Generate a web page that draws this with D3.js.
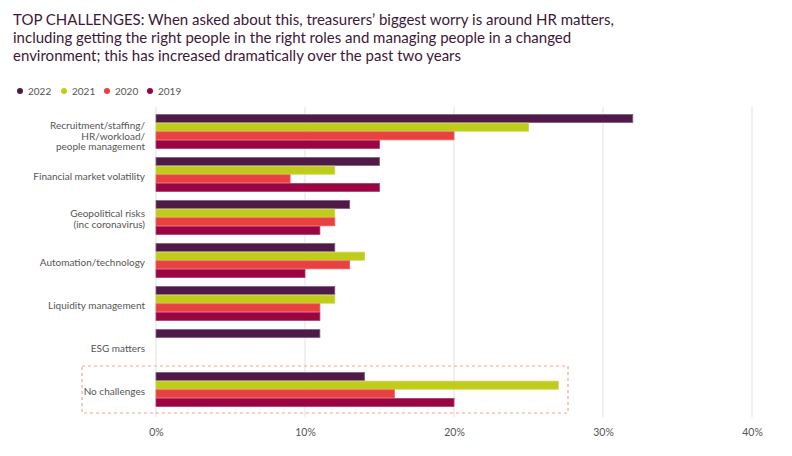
<!DOCTYPE html>
<html><head><meta charset="utf-8">
<script src="https://cdn.jsdelivr.net/npm/d3@7"></script>
<style>
body{margin:0;background:#fff;}
svg{display:block;font-family:"Lato","Noto Sans",sans-serif;}
</style></head>
<body><svg id="c" width="792" height="456"></svg>
<script>
const titleLines = [
  "TOP CHALLENGES: When asked about this, treasurers’ biggest worry is around HR matters,",
  "including getting the right people in the right roles and managing people in a changed",
  "environment; this has increased dramatically over the past two years"
];
const categories = [
  ["Recruitment/staffing/","HR/workload/","people management"],
  ["Financial market volatility"],
  ["Geopolitical risks","(inc coronavirus)"],
  ["Automation/technology"],
  ["Liquidity management"],
  ["ESG matters"],
  ["No challenges"]
];
const years = ["2022","2021","2020","2019"];
const v2022 = [32, 15, 13, 12, 12, 11, 14];
const v2021 = [25, 12, 12, 14, 12, null, 27];
const v2020 = [20, 9, 12, 13, 11, null, 16];
const v2019 = [15, 15, 11, 10, 11, null, 20];
const xTicks = [0, 10, 20, 30, 40];
const colors = {"2022":"#4e1a47","2021":"#bfcc1a","2020":"#e84142","2019":"#9b0443"};
const strokes = {"2022":"#8a5b84","2021":"#cbd64a","2020":"#f0605a","2019":"#b23a6a"};

const series = {"2022":v2022,"2021":v2021,"2020":v2020,"2019":v2019};
const svg = d3.select("#c");

// title
svg.append("g").selectAll("text").data(titleLines).join("text")
  .attr("x", 13).attr("y", (d,i)=>25 + i*18)
  .attr("font-size", 15).attr("fill", "#3d1838")
  .text(d=>d);

// legend
const lg = svg.append("g").attr("transform","translate(0,91)");
const lx = [20, 64, 107, 150];
years.forEach((y,i)=>{
  lg.append("circle").attr("cx", lx[i]).attr("cy", 0).attr("r", 3).attr("fill", colors[y]);
  lg.append("text").attr("x", lx[i]+8).attr("y", 3.5).attr("font-size", 10).attr("fill","#555").text(y);
});

const x = d3.scaleLinear().domain([0,40]).range([156, 752]);
const idx = d3.range(categories.length);
const yb = d3.scaleBand().domain(idx).range([110, 411]).paddingInner(0.21).paddingOuter(0.105);
const yi = d3.scaleBand().domain(years).range([0, yb.bandwidth()]).paddingInner(0.07);

// grid
svg.append("g").selectAll("line").data(xTicks).join("line")
  .attr("x1", d=>x(d)).attr("x2", d=>x(d))
  .attr("y1", 107).attr("y2", 417)
  .attr("stroke", "#e6e6e6").attr("stroke-width", 1.2);

// dashed box around No challenges
const last = categories.length-1;
svg.append("rect")
  .attr("x", 82).attr("y", yb(last)-6.5)
  .attr("width", 486).attr("height", yb.bandwidth()+13)
  .attr("fill","none").attr("stroke","#f3a48c").attr("stroke-width",1.2)
  .attr("stroke-dasharray","3,3");

// bars
const bars = [];
idx.forEach(i=>years.forEach(y=>{ if(series[y][i]!=null) bars.push({i, y, v: series[y][i]}); }));
svg.append("g").selectAll("rect").data(bars).join("rect")
  .attr("x", x(0)).attr("y", d=>yb(d.i)+yi(d.y))
  .attr("width", d=>x(d.v)-x(0)).attr("height", yi.bandwidth())
  .attr("fill", d=>colors[d.y]).attr("stroke", d=>strokes[d.y]).attr("stroke-width", 0.8);

// category labels
const lab = svg.append("g");
idx.forEach(i=>{
  const lines = categories[i];
  const n = lines.length;
  const lh = 10.8;
  const c = yb(i) + yb.bandwidth()/2 + (n>2 ? 4.5 : 1.5);
  lines.forEach((t,k)=>{
    lab.append("text").attr("x", 145).attr("y", c - (n-1)*lh/2 + k*lh + 3.5)
      .attr("text-anchor","end").attr("font-size", 10).attr("fill","#555").text(t);
  });
});

// x axis labels
const ax = d3.axisBottom(x).tickValues(xTicks).tickFormat(d=>d+"%").tickSize(0).tickPadding(0);
const axg = svg.append("g").attr("transform","translate(0,429)").call(ax);
axg.select(".domain").remove();
axg.selectAll("text").attr("font-size", 10.5).attr("fill","#555").attr("font-family","Lato, 'Noto Sans', sans-serif");
</script>
</body></html>
